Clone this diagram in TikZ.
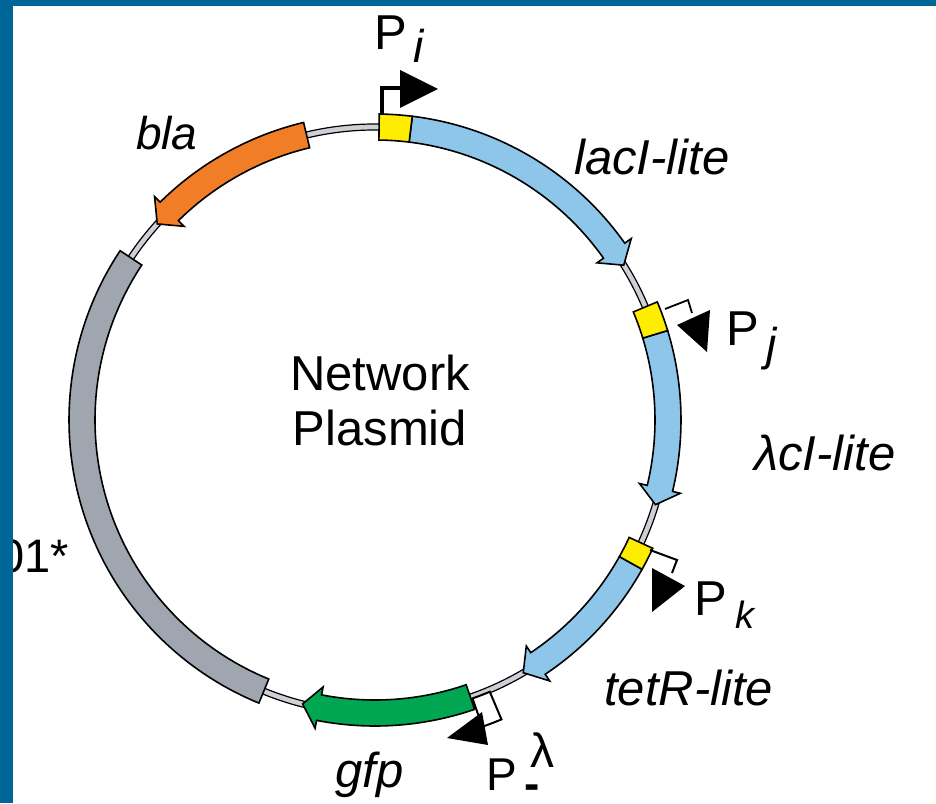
\documentclass[tikz,border=0pt]{standalone}
\usepackage{fontspec}
\setmainfont{Liberation Sans}
\definecolor{frameblue}{RGB}{0,102,153}
\definecolor{geneblue}{RGB}{142,198,234}
\definecolor{geneorange}{RGB}{241,126,38}
\definecolor{genegreen}{RGB}{0,166,81}
\definecolor{genegray}{RGB}{160,166,176}
\definecolor{promyellow}{RGB}{255,237,0}
\definecolor{linkergray}{RGB}{205,208,212}
\tikzset{
  genestyle/.style={draw=black, line width=1.6pt, line join=miter},
  lbl/.style={inner sep=0pt, anchor=base west, font=\fontsize{49}{49}\selectfont},
  ilbl/.style={inner sep=0pt, anchor=base west, font=\fontsize{49}{49}\selectfont\itshape},
  promtip/.style={fill=black},
}
\newcommand\genearrow[4]{%
  \draw[genestyle, fill=#4] (#1:306) arc[start angle=#1, end angle=#2, radius=306]
    -- (#2:314) -- (#3:293) -- (#2:272) -- (#2:280)
    arc[start angle=#2, end angle=#1, radius=280] -- cycle;}
\newcommand\arcbox[5]{%
  \draw[genestyle, fill=#5] (#1:#4) arc[start angle=#1, end angle=#2, radius=#4]
    -- (#2:#3) arc[start angle=#2, end angle=#1, radius=#3] -- cycle;}
\begin{document}
\begin{tikzpicture}[x=1pt,y=1pt]
\useasboundingbox (-375,-383) rectangle (561,420);
\fill[white] (-375,-383) rectangle (561,420);
% backbone linker
\draw[line width=1.2pt, fill=linkergray, even odd rule] (0,0) circle[radius=296] (0,0) circle[radius=290];
% genes
\genearrow{103.5}{134.6}{138}{geneorange}
\arcbox{146.4}{247.7}{280}{306}{genegray}
\genearrow{83}{35.3}{31.9}{geneblue}
\genearrow{17}{-13.5}{-16.8}{geneblue}
\genearrow{-29.2}{-56.2}{-59.6}{geneblue}
\genearrow{-71}{-101}{-104.3}{genegreen}
% promoter boxes
\arcbox{89.2}{83}{280}{306}{promyellow}
\arcbox{22.7}{17}{280}{306}{promyellow}
\arcbox{-24.8}{-29.2}{280}{306}{promyellow}
% promoter arrows
\coordinate (pi1) at (7,306); \coordinate (pi2) at (7,332); \coordinate (pi3) at (25,332);
\draw[line width=3.5pt] (pi1) -- (pi2) -- (pi3);
\fill[promtip] (25,350) -- (25,312) -- (63,331) -- cycle;
\coordinate (pj1) at (290,111); \coordinate (pj2) at (313,120); \coordinate (pj3) at (317,107);
\draw[line width=1.8pt] (pj1) -- (pj2) -- (pj3);
\fill[promtip] (302,95) -- (335,110) -- (332,68) -- cycle;
\coordinate (pk1) at (275,-130); \coordinate (pk2) at (302,-140); \coordinate (pk3) at (297,-153);
\draw[line width=2pt] (pk1) -- (pk2) -- (pk3);
\fill[promtip] (277,-148) -- (310,-166) -- (277,-192) -- cycle;
\begin{scope}[genestyle/.append style={line width=2pt}]
\arcbox{-70.7}{-67.1}{295}{325}{white}
\end{scope}
\fill[promtip] (107,-292) -- (113,-325) -- (72,-318) -- cycle;
% labels
\node[lbl] (piP) at (-1,370) {P};
\node[ilbl, font=\fontsize{46}{46}\selectfont\itshape] (pisub) at (38,357) {i};
\node[lbl] (pjP) at (351,75) {P};
\node[ilbl, font=\fontsize{46}{46}\selectfont\itshape] (pjsub) at (391,60) {j};
\node[lbl] (pkP) at (319,-195) {P};
\node[ilbl, font=\fontsize{38}{38}\selectfont\itshape] (pksub) at (360,-208) {k};
\node[lbl, font=\fontsize{46}{46}\selectfont] (plP) at (111,-370) {P};
\node[lbl, font=\fontsize{48}{48}\selectfont] (plsup) at (155,-347) {λ};
\node[inner sep=0pt, anchor=base, font=\fontsize{46}{46}\selectfont\bfseries] (plsub) at (157,-379) {-};
\node[ilbl, font=\fontsize{46}{46}\selectfont\itshape] (bla) at (-239,270) {bla};
\node[ilbl] (laci) at (199,245) {lacI-lite};
\node[ilbl] (lcI) at (379,-50) {λcI-lite};
\node[ilbl] (tetr) at (229,-285) {tetR-lite};
\node[ilbl] (gfp) at (-40,-367) {gfp};
\node[lbl, anchor=base] (net) at (5,30) {Network};
\node[lbl, anchor=base] (pls) at (5,-25) {Plasmid};
\node[lbl, font=\fontsize{47}{47}\selectfont] (ori) at (-377,-152) {01*};
% frame
\fill[frameblue] (-375,-383) rectangle (-362,420);
\fill[frameblue] (-375,414) rectangle (561,420);
\end{tikzpicture}
\end{document}
